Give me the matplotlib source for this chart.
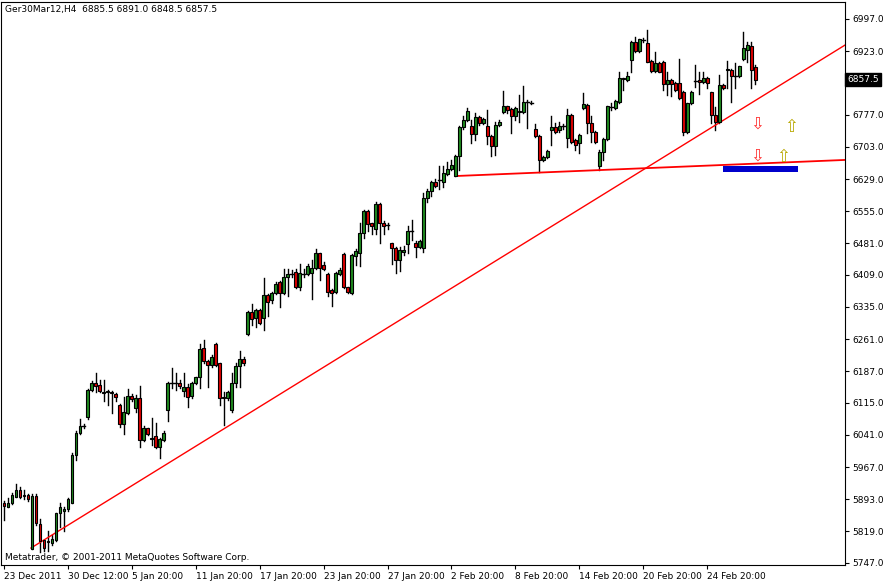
import matplotlib
matplotlib.use("Agg")
import matplotlib.pyplot as plt
from matplotlib.patches import Rectangle

opens = [5884,5876,5884,5899,5914,5904,5903,5778,5901,5836,5800,5798,5793,5800,5862,5865,5870,5884,5995,6045,
6061,6082,6144,6161,6156,6137,6139,6140,6135,6110,6066,6091,6131,6102,6125,6030,6056,6035,6038,6014,
6030,6098,6160,6160,6161,6141,6152,6130,6160,6175,6240,6212,6202,6250,6206,6125,6125,6098,6161,6200,
6215,6273,6324,6309,6328,6309,6363,6350,6367,6392,6367,6403,6410,6416,6380,6410,6411,6412,6424,6458,
6431,6410,6374,6370,6411,6457,6380,6368,6453,6458,6504,6556,6527,6514,6572,6529,6523,6481,6470,6442,
6461,6480,6509,6483,6472,6470,6585,6602,6622,6627,6623,6641,6652,6636,6681,6748,6764,6751,6732,6771,
6757,6751,6728,6706,6754,6784,6796,6790,6775,6785,6784,6807,6805,6744,6728,6672,6679,6742,6748,6741,
6750,6724,6777,6718,6711,6792,6800,6759,6738,6658,6691,6721,6794,6793,6807,6861,6857,6903,6945,6924,
6949,6941,6901,6878,6895,6899,6848,6857,6849,6849,6830,6738,6803,6855,6857,6851,6862,6828,6776,6761,
6845,6879,6880,6866,6866,6904,6926,6935,6885.5]
highs = [5888,5896,5907,5928,5922,5914,5906,5906,5906,5847,5800,5820,5812,5862,5884,5876,5897,5999,6049,6077,
6065,6146,6166,6183,6167,6167,6145,6141,6137,6113,6129,6146,6134,6133,6154,6061,6058,6079,6068,6033,
6049,6163,6194,6183,6167,6183,6157,6163,6175,6250,6259,6214,6225,6252,6207,6140,6143,6183,6206,6235,
6219,6326,6342,6330,6330,6401,6365,6369,6393,6394,6422,6422,6420,6422,6434,6422,6434,6443,6468,6460,
6438,6412,6376,6415,6424,6459,6382,6457,6468,6527,6558,6558,6529,6576,6574,6532,6527,6483,6472,6472,
6475,6521,6535,6486,6489,6598,6606,6624,6630,6658,6658,6669,6673,6684,6750,6773,6793,6765,6780,6773,
6770,6788,6730,6761,6765,6832,6798,6792,6794,6823,6842,6811,6808,6756,6730,6681,6696,6774,6759,6761,
6755,6790,6779,6720,6732,6826,6802,6773,6740,6695,6723,6798,6805,6811,6876,6862,6875,6946,6956,6952,
6953,6972,6903,6920,6897,6901,6874,6859,6851,6904,6832,6805,6832,6891,6876,6874,6863,6830,6794,6868,
6847,6900,6882,6895,6890,6966,6943,6945,6891.0]
lows = [5846,5876,5882,5898,5895,5894,5890,5778,5835,5773,5775,5775,5788,5797,5830,5819,5865,5884,5984,6044,
6056,6078,6143,6140,6140,6120,6110,6091,6120,6059,6043,6088,6118,6094,6013,6026,6040,6018,6010,5989,
6028,6072,6148,6144,6148,6130,6106,6125,6157,6148,6206,6152,6198,6200,6110,6064,6122,6094,6150,6152,
6202,6271,6294,6290,6296,6281,6315,6345,6365,6334,6364,6361,6405,6378,6373,6403,6409,6353,6422,6397,
6420,6360,6337,6368,6409,6378,6367,6366,6432,6429,6494,6510,6503,6503,6481,6502,6515,6433,6413,6418,
6455,6458,6489,6449,6470,6462,6576,6589,6610,6606,6610,6639,6650,6636,6650,6745,6762,6713,6718,6753,
6755,6710,6681,6685,6752,6780,6782,6734,6765,6761,6782,6746,6802,6725,6646,6670,6677,6708,6735,6738,
6745,6702,6713,6696,6690,6790,6734,6715,6713,6650,6673,6719,6788,6791,6803,6834,6855,6876,6922,6921,
6945,6897,6875,6874,6874,6834,6822,6820,6832,6813,6730,6736,6801,6840,6825,6849,6839,6759,6742,6759,
6837,6838,6807,6838,6864,6902,6897,6838,6848.5]
closes = [5878,5885,5903,5914,5899,5900,5893,5901,5838,5797,5781,5795,5802,5862,5876,5871,5893,5995,6045,6062,
6060,6144,6161,6154,6143,6139,6141,6138,6127,6066,6094,6131,6124,6125,6030,6056,6043,6031,6014,6031,
6045,6160,6160,6161,6154,6150,6129,6160,6173,6238,6210,6202,6219,6202,6125,6128,6140,6161,6200,6215,
6206,6324,6307,6328,6299,6363,6347,6367,6388,6367,6403,6410,6411,6380,6413,6411,6430,6424,6458,6424,
6423,6370,6368,6413,6420,6380,6370,6455,6464,6504,6556,6525,6521,6572,6527,6521,6522,6470,6443,6466,
6466,6510,6508,6474,6487,6585,6602,6622,6613,6627,6643,6652,6662,6682,6748,6765,6786,6732,6771,6757,
6767,6728,6706,6754,6761,6797,6788,6775,6792,6783,6806,6807,6805,6728,6673,6679,6694,6748,6738,6751,
6750,6777,6715,6708,6730,6802,6757,6737,6715,6692,6721,6796,6795,6809,6862,6858,6867,6945,6924,6950,
6949,6899,6878,6895,6876,6848,6857,6848,6834,6815,6738,6803,6830,6855,6851,6862,6849,6776,6761,6845,
6839,6881,6865,6866,6888,6930,6937,6880,6857.5]
price_ticks = [6997.0,6923.0,6777.0,6703.0,6629.0,6555.0,6481.0,6409.0,6335.0,6261.0,6187.0,6115.0,6041.0,5967.0,5893.0,5819.0,5747.0]
date_labels = ["23 Dec 2011","30 Dec 12:00","5 Jan 20:00","11 Jan 20:00","17 Jan 20:00","23 Jan 20:00",
               "27 Jan 20:00","2 Feb 20:00","8 Feb 20:00","14 Feb 20:00","20 Feb 20:00","24 Feb 20:00"]
date_pos = [0,16,32,48,64,80,96,112,128,144,160,176]
trend1 = ([6.75,210.5],[5781,6937])
trend2 = ([113,210.5],[6636,6673])

W,H = 886,583
fig = plt.figure(figsize=(W/100,H/100),dpi=100)
ax = fig.add_axes([1/W,(583-565)/H,844/W,563/H])
ax.set_xlim(-0.75,210.5)
ax.set_ylim(5742,7036)
for i,(o,h,l,c) in enumerate(zip(opens,highs,lows,closes)):
    ax.plot([i,i],[l,h],color='black',lw=1,zorder=2)
    col = '#1f8a1f' if c>=o else '#dd0000'
    lo,hi = min(o,c),max(o,c)
    if hi-lo < 1.5:
        ax.plot([i-0.4,i+0.4],[o,o],color='black',lw=1,zorder=3)
    else:
        ax.add_patch(Rectangle((i-0.35,lo),0.7,hi-lo,facecolor=col,edgecolor='black',lw=0.8,zorder=3))
ax.plot(*trend1,color='red',lw=1)
ax.plot(*trend2,color='red',lw=1.3)
ax.add_patch(Rectangle((180,6645),18.75,14,facecolor='#0000cc',edgecolor='none',zorder=4))
for xx,yy,s,c in [(188.5,6757,'⇩','#ff3030'),(188.5,6683,'⇩','#ff3030'),(197,6748,'⇧','#b8a800'),(195,6680,'⇧','#b8a800')]:
    ax.text(xx,yy,s,color=c,fontsize=12,ha='center',va='center',zorder=5)
ax.yaxis.tick_right()
ax.set_yticks(price_ticks)
ax.set_yticklabels([f"{p:.1f}" for p in price_ticks],fontsize=6.5)
ax.set_xticks(date_pos)
ax.set_xticklabels(date_labels,fontsize=6.5,ha='left')
ax.tick_params(length=3,pad=2)
ax.text(1.003,(6857.5-5742)/(7036-5742),'6857.5',transform=ax.transAxes,fontsize=6.5,color='white',
        va='center',ha='left',bbox=dict(boxstyle='square,pad=0.25',fc='black',ec='black'))
ax.text(0.005,0.995,'Ger30Mar12,H4  6885.5 6891.0 6848.5 6857.5',transform=ax.transAxes,fontsize=6.5,va='top')
ax.text(0.005,0.005,'Metatrader, © 2001-2011 MetaQuotes Software Corp.',transform=ax.transAxes,fontsize=6.5,va='bottom')
fig.savefig('out.png',dpi=100)
